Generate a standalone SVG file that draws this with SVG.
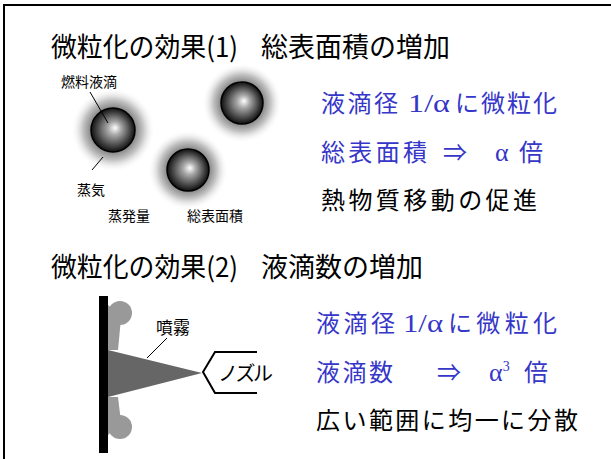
<svg xmlns="http://www.w3.org/2000/svg" width="611" height="459" viewBox="0 0 611 459">
  <style>
    .jp { font-family: "Noto Sans CJK JP", "DejaVu Sans", sans-serif; fill: #000; }
    .title { font-size: 27px; }
    .body { font-size: 24px; }
    .blue { fill: #3636c8; }
    .serif { font-family: "Liberation Serif", "DejaVu Serif", serif; font-size: 26px; }
    .label { font-size: 14px; }
    .lead { stroke: #000; stroke-width: 1; fill: none; }
  </style>
  <defs>
    <radialGradient id="drop" cx="0.5" cy="0.5" r="0.5" fx="0.55" fy="0.45">
      <stop offset="0" stop-color="#ffffff"/>
      <stop offset="0.3" stop-color="#a8a8a8"/>
      <stop offset="0.8" stop-color="#3a3a3a"/>
      <stop offset="1" stop-color="#101010"/>
    </radialGradient>
    <radialGradient id="vapor" cx="0.5" cy="0.5" r="0.5">
      <stop offset="0.5" stop-color="#808080"/>
      <stop offset="0.72" stop-color="#c4c4c4"/>
      <stop offset="1" stop-color="#ffffff" stop-opacity="0"/>
    </radialGradient>
  </defs>

  <rect width="611" height="459" fill="#fff"/>
  <!-- frame -->
  <path d="M4 459 V5 H611" fill="none" stroke="#000" stroke-width="2"/>

  <!-- section 1 -->
  <g id="title1">
    <text class="jp title" x="51" y="57" textLength="187" lengthAdjust="spacingAndGlyphs">微粒化の効果(1)</text>
    <text class="jp title" x="261" y="57">総表面積の増加</text>
  </g>

  <g id="droplet1">
    <circle cx="113" cy="130" r="42" fill="url(#vapor)"/>
    <circle cx="113" cy="130" r="22" fill="url(#drop)" stroke="#000" stroke-width="1.5"/>
  </g>
  <g id="droplet2">
    <circle cx="242" cy="103" r="40" fill="url(#vapor)"/>
    <circle cx="242" cy="103" r="21" fill="url(#drop)" stroke="#000" stroke-width="1.5"/>
  </g>
  <g id="droplet3">
    <circle cx="188" cy="170" r="40" fill="url(#vapor)"/>
    <circle cx="188" cy="170" r="21" fill="url(#drop)" stroke="#000" stroke-width="1.5"/>
  </g>

  <g id="labels1">
    <text class="jp label" x="61" y="87" font-size="15">燃料液滴</text>
    <text class="jp label" x="77" y="195" font-size="15">蒸気</text>
    <text class="jp label" x="108" y="221" font-size="15">蒸発量</text>
    <text class="jp label" x="187" y="221" font-size="15">総表面積</text>
  </g>
  <g id="connectors1">
    <line class="lead" x1="90" y1="92" x2="108" y2="123"/>
    <line class="lead" x1="92" y1="170" x2="103" y2="157"/>
  </g>

  <g id="text1">
    <text class="jp body blue" x="321" y="112" textLength="77" lengthAdjust="spacing">液滴径</text>
    <text class="serif blue" x="408" y="112" textLength="42" lengthAdjust="spacingAndGlyphs">1/α</text>
    <text class="jp body blue" x="455" y="112" textLength="102" lengthAdjust="spacing">に微粒化</text>
    <text class="jp body blue" x="321" y="161" textLength="106" lengthAdjust="spacing">総表面積</text>
    <text class="jp body blue" x="443" y="161">⇒</text>
    <text class="serif blue" x="495" y="161">α</text>
    <text class="jp body blue" x="519" y="161">倍</text>
    <text class="jp body" x="321" y="209" textLength="216" lengthAdjust="spacing">熱物質移動の促進</text>
  </g>

  <!-- section 2 -->
  <g id="title2">
    <text class="jp title" x="51" y="277" textLength="187" lengthAdjust="spacingAndGlyphs">微粒化の効果(2)</text>
    <text class="jp title" x="261" y="277">液滴数の増加</text>
  </g>

  <g id="spray">
    <path d="M108 305 L121 318 L118 350 L108 350 Z" fill="#999"/>
    <path d="M108 435 L121 422 L118 397 L108 397 Z" fill="#999"/>
    <circle cx="120" cy="313" r="12" fill="#999"/>
    <circle cx="120" cy="427" r="12" fill="#999"/>
    <polygon points="108,350 202,373 108,397" fill="#666"/>
    <rect x="99" y="296" width="9" height="157" fill="#000"/>
  </g>

  <g id="nozzle">
    <polyline points="257,352 215,352 203,372 215,393 257,393" fill="none" stroke="#000" stroke-width="2"/>
    <text class="jp" x="218" y="381" font-size="20" textLength="55">ノズル</text>
  </g>

  <g id="spray-label">
    <text class="jp" x="156" y="334" font-size="17">噴霧</text>
  </g>
  <g id="connectors2">
    <line class="lead" x1="167" y1="338" x2="147" y2="358"/>
  </g>

  <g id="text2">
    <text class="jp body blue" x="316" y="332" textLength="79" lengthAdjust="spacing">液滴径</text>
    <text class="serif blue" x="403" y="332" textLength="40" lengthAdjust="spacingAndGlyphs">1/α</text>
    <text class="jp body blue" x="448" y="332" textLength="109" lengthAdjust="spacing">に微粒化</text>
    <text class="jp body blue" x="316" y="381" textLength="77" lengthAdjust="spacing">液滴数</text>
    <text class="jp body blue" x="437" y="381">⇒</text>
    <text class="serif blue" x="489" y="381">α<tspan font-size="14" dy="-10">3</tspan></text>
    <text class="jp body blue" x="524" y="381">倍</text>
    <text class="jp body" x="316" y="429" textLength="262" lengthAdjust="spacing">広い範囲に均一に分散</text>
  </g>
</svg>
